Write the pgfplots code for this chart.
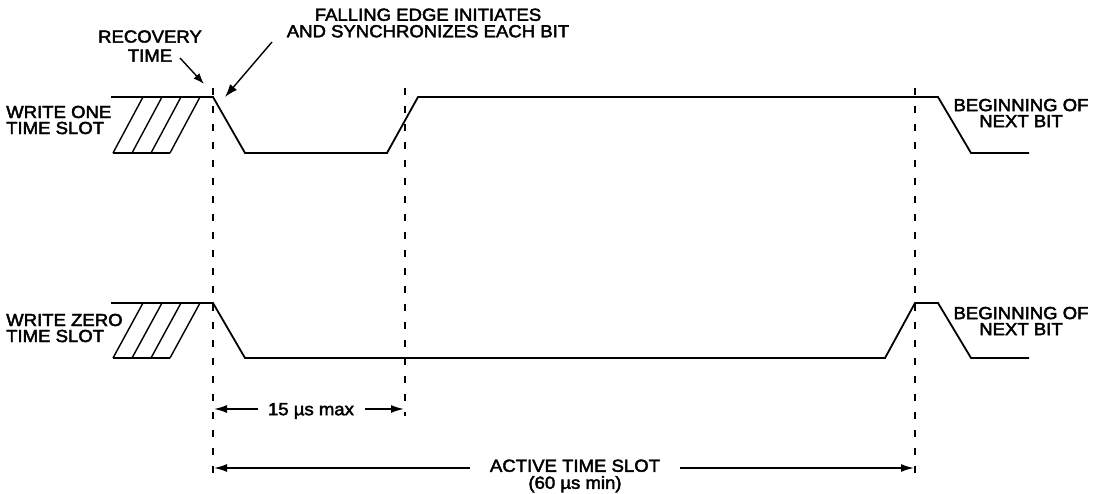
\documentclass[border=0pt]{standalone}
\usepackage{fontspec}
\setmainfont{Liberation Sans}[FakeStretch=1.06,FakeBold=2.5]
\usepackage{pgfplots}
\pgfplotsset{compat=1.18}
\usetikzlibrary{arrows.meta}
\begin{document}
\begin{tikzpicture}
\begin{axis}[width=1104pt,height=494pt,scale only axis,
  xmin=0,xmax=1104,ymin=0,ymax=494,y dir=reverse,hide axis,clip=false]
\path (axis cs:0,0) rectangle (axis cs:1104,494);
% write one waveform
\addplot[black,line width=1.8pt,line join=miter] coordinates {(111,97)(213,97)(245,153)(387,153)(418,97)(938,97)(971,153)(1029,153)};
\addplot[black,line width=1.8pt] coordinates {(113,153)(170,153)};
\addplot[black,line width=1.4pt] coordinates {(113,153)(143,97)};
\addplot[black,line width=1.4pt] coordinates {(132,153)(162,97)};
\addplot[black,line width=1.4pt] coordinates {(151,153)(181,97)};
\addplot[black,line width=1.4pt] coordinates {(170,153)(200,97)};
% write zero waveform
\addplot[black,line width=1.8pt,line join=miter] coordinates {(111,303)(213,303)(245,358)(885,358)(915,303)(938,303)(971,358)(1029,358)};
\addplot[black,line width=1.8pt] coordinates {(113,358)(170,358)};
\addplot[black,line width=1.4pt] coordinates {(113,358)(143,303)};
\addplot[black,line width=1.4pt] coordinates {(132,358)(162,303)};
\addplot[black,line width=1.4pt] coordinates {(151,358)(181,303)};
\addplot[black,line width=1.4pt] coordinates {(170,358)(200,303)};
% dashed guides
\addplot[black,line width=1.4pt,dash pattern=on 7pt off 11pt] coordinates {(213,88)(213,480)};
\addplot[black,line width=1.4pt,dash pattern=on 7pt off 11pt] coordinates {(405,88)(405,416)};
\addplot[black,line width=1.4pt,dash pattern=on 7pt off 11pt] coordinates {(915,88)(915,480)};
% annotation arrows
\addplot[black,line width=1.4pt,-{Latex[length=11pt,width=8pt]}] coordinates {(180,58)(204,84)};
\addplot[black,line width=1.4pt,-{Latex[length=13pt,width=9pt]}] coordinates {(272,42)(225,97)};
% dimension arrows
\addplot[black,line width=1.6pt,-{Latex[length=13pt,width=8pt]}] coordinates {(258,409)(214,409)};
\addplot[black,line width=1.6pt,-{Latex[length=13pt,width=8pt]}] coordinates {(365,409)(404,409)};
\addplot[black,line width=1.6pt,-{Latex[length=13pt,width=8pt]}] coordinates {(470,468)(214,468)};
\addplot[black,line width=1.6pt,-{Latex[length=13pt,width=8pt]}] coordinates {(680,468)(914,468)};
% texts
\node[inner sep=0pt,align=center,font=\fontsize{17.5}{19}\selectfont] at (axis cs:150,46) {RECOVERY\\TIME};
\node[inner sep=0pt,align=center,font=\fontsize{17.5}{16.5}\selectfont] at (axis cs:428,23) {FALLING EDGE INITIATES\\AND SYNCHRONIZES EACH BIT};
\node[inner sep=0pt,align=left,anchor=west,font=\fontsize{17.5}{16}\selectfont] at (axis cs:6,120) {WRITE ONE\\TIME SLOT};
\node[inner sep=0pt,align=left,anchor=west,font=\fontsize{17.5}{16}\selectfont] at (axis cs:6,328) {WRITE ZERO\\TIME SLOT};
\node[inner sep=0pt,align=center,font=\fontsize{17.5}{16}\selectfont] at (axis cs:1021,113) {BEGINNING OF\\NEXT BIT};
\node[inner sep=0pt,align=center,font=\fontsize{17.5}{16}\selectfont] at (axis cs:1021,321) {BEGINNING OF\\NEXT BIT};
\node[inner sep=0pt,font=\fontsize{17.5}{19}\selectfont] at (axis cs:311,411) {15 µs max};
\node[inner sep=0pt,align=center,font=\fontsize{17.5}{17}\selectfont] at (axis cs:575,476) {ACTIVE TIME SLOT\\(60 µs min)};
\end{axis}
\end{tikzpicture}
\end{document}
